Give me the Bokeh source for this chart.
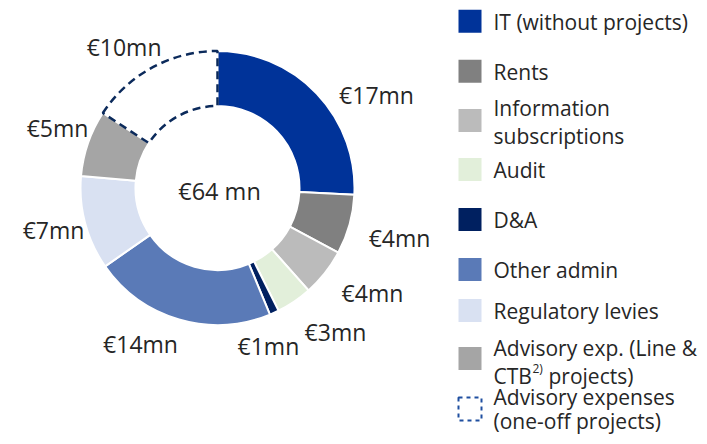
import math
from bokeh.plotting import figure
from bokeh.models import Range1d, ColumnDataSource
from bokeh.core.properties import value
from bokeh.embed import file_html
from bokeh.resources import INLINE

# ---------------- data ----------------
categories = ["IT (without projects)", "Rents", "Information subscriptions", "Audit", "D&A",
              "Other admin", "Regulatory levies", "Advisory exp. (Line & CTB projects)",
              "Advisory expenses (one-off projects)"]
values = [16.5, 4.5, 3.6, 2.7, 0.7, 13.8, 7.1, 5.0, 10.1]
value_labels = ["€17mn", "€4mn", "€4mn", "€3mn", "€1mn", "€14mn", "€7mn", "€5mn", "€10mn"]
colors = ["#003399", "#808080", "#BBBBBB", "#E2EFDA", "#002060", "#5A7AB7", "#D9E1F2", "#A5A5A5", "#0B2A5B"]
dashed = [False, False, False, False, False, False, False, False, True]
total_label = "€64 mn"

legend_lines = [["IT (without projects)"], ["Rents"], ["Information", "subscriptions"], ["Audit"],
                ["D&A"], ["Other admin"], ["Regulatory levies"],
                ["Advisory exp. (Line &", "CTB"], ["Advisory expenses", "(one-off projects)"]]

# ---------------- layout ----------------
R_IN, R_OUT = 82, 137
label_angle_deg = [30.2, -15.5, -34.0, -50.6, -72.1, -116.2, 194.5, 159.6, 123.6]
label_radius = [184.0, 188.9, 186.9, 185.8, 165.6, 174.4, 169.4, 170.7, 168.8]
legend_row_y = [166.8, 116.8, 67.5, 18.5, -31.5, -81.5, -122.5, -170.5, -221.0]
legend_line_y = [[166.5], [116.5], [80.5, 52.5], [18.5], [-31.5], [-81.5], [-122.5],
                 [-159.5, -187.5], [-209.0, -233.0]]
SW_X, TXT_X = 252.5, 276
FONT = value("Open Sans")
TXT_COLOR = "#262626"

total = sum(values)
starts, ends = [], []
cum = 0.0
for v in values:
    starts.append(math.radians(90 - cum / total * 360))
    cum += v
    ends.append(math.radians(90 - cum / total * 360))

p = figure(width=699, height=436, x_range=Range1d(-217, 482), y_range=Range1d(-248.5, 187.5),
           output_backend="svg", toolbar_location=None, min_border=0)
p.axis.visible = False
p.grid.visible = False
p.outline_line_color = None

solid = [i for i in range(len(values)) if not dashed[i]]
dsh = [i for i in range(len(values)) if dashed[i]]

src_solid = ColumnDataSource(dict(start=[starts[i] for i in solid], end=[ends[i] for i in solid],
                                  color=[colors[i] for i in solid]))
p.annular_wedge(x=0, y=0, inner_radius=R_IN, outer_radius=R_OUT, start_angle="start",
                end_angle="end", direction="clock", fill_color="color", line_color="white",
                line_width=2, source=src_solid)

src_dash = ColumnDataSource(dict(start=[starts[i] for i in dsh], end=[ends[i] for i in dsh],
                                 color=[colors[i] for i in dsh]))
p.annular_wedge(x=0, y=0, inner_radius=R_IN, outer_radius=R_OUT, start_angle="start",
                end_angle="end", direction="clock", fill_color=None, line_color="color",
                line_width=2.5, line_dash="8 5", source=src_dash)

# value labels
lx = [r * math.cos(math.radians(a)) for r, a in zip(label_radius, label_angle_deg)]
ly = [r * math.sin(math.radians(a)) for r, a in zip(label_radius, label_angle_deg)]
p.text(x=lx, y=ly, text=value_labels, text_align="center", text_baseline="middle",
       text_font=FONT, text_font_size="23px", text_color=TXT_COLOR)

p.text(x=[2], y=[-2.5], text=[total_label], text_align="center", text_baseline="middle",
       text_font=FONT, text_font_size="23.5px", text_color=TXT_COLOR)

# legend
for i in range(len(categories)):
    if dashed[i]:
        p.rect(x=SW_X, y=legend_row_y[i], width=23, height=23, fill_color=None,
               line_color="#1F4FA0", line_width=2, line_dash="4 4")
    else:
        p.rect(x=SW_X, y=legend_row_y[i], width=23, height=23, fill_color=colors[i],
               line_color=None)
    p.text(x=[TXT_X] * len(legend_lines[i]), y=legend_line_y[i], text=legend_lines[i],
           text_align="left", text_baseline="middle", text_font=FONT,
           text_font_size="21px", text_color=TXT_COLOR)

# superscript part of "CTB2) projects)"
p.text(x=[TXT_X + 39], y=[legend_line_y[7][1] + 7], text=["2)"], text_align="left",
       text_baseline="middle", text_font=FONT, text_font_size="12px", text_color=TXT_COLOR)
p.text(x=[TXT_X + 55], y=[legend_line_y[7][1]], text=["projects)"], text_align="left",
       text_baseline="middle", text_font=FONT, text_font_size="21px", text_color=TXT_COLOR)

open("out.html", "w").write(file_html(p, INLINE))
